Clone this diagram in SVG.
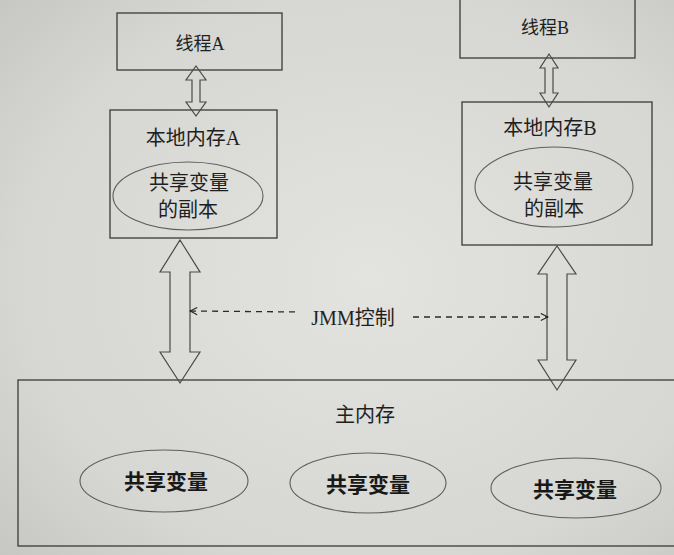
<svg xmlns="http://www.w3.org/2000/svg" width="674" height="555" viewBox="0 0 674 555">
<defs>
<radialGradient id="bg" cx="0.55" cy="0.5" r="0.75">
<stop offset="0" stop-color="#e3e3df"/>
<stop offset="0.7" stop-color="#d6d6d2"/>
<stop offset="1" stop-color="#c6c6c2"/>
</radialGradient>
<marker id="chev" viewBox="0 0 10 10" refX="9" refY="5" markerWidth="9" markerHeight="9" orient="auto-start-reverse" markerUnits="userSpaceOnUse">
<path d="M1,1 L9,5 L1,9" fill="none" stroke="#222" stroke-width="1.2"/>
</marker>
<style>
.box{fill:none;stroke:#3a3a3a;stroke-width:1.3}
.ell{fill:none;stroke:#5e5e5e;stroke-width:1.1}
.arr{fill:none;stroke:#4a4a4a;stroke-width:1.2;stroke-linejoin:miter}
.dash{fill:none;stroke:#2a2a2a;stroke-width:1.3;stroke-dasharray:6 5}
.t{font-family:"Liberation Serif","Noto Sans CJK SC",serif;fill:#1f1f1f;text-anchor:middle;dominant-baseline:central}
.big{font-size:20px}
.mid{font-size:18px}
.bold{font-size:21px;font-weight:bold;fill:#181818}
</style>
</defs>
<rect x="0" y="0" width="674" height="555" fill="url(#bg)"/>

<g id="threadA">
<rect class="box" x="117" y="13" width="165" height="57"/>
<text class="t mid" x="200" y="44">线程A</text>
</g>

<g id="threadB">
<rect class="box" x="460" y="-2" width="175" height="60"/>
<text class="t mid" x="545" y="28">线程B</text>
</g>

<g id="localA">
<rect class="box" x="110" y="110" width="167" height="128"/>
<text class="t big" x="193" y="138">本地内存A</text>
<ellipse class="ell" cx="188" cy="196" rx="75" ry="34"/>
<text class="t big" x="189" y="183">共享变量</text>
<text class="t big" x="188" y="210">的副本</text>
</g>

<g id="localB">
<rect class="box" x="462" y="102" width="190" height="143"/>
<text class="t big" x="550" y="128">本地内存B</text>
<ellipse class="ell" cx="554" cy="187" rx="79" ry="40"/>
<text class="t big" x="553" y="182">共享变量</text>
<text class="t big" x="554" y="209">的副本</text>
</g>

<g id="mainMemory">
<rect class="box" x="18" y="380" width="680" height="166"/>
<text class="t big" x="365" y="415">主内存</text>
<ellipse class="ell" cx="164" cy="481" rx="84" ry="31"/>
<text class="t bold" x="166" y="482">共享变量</text>
<ellipse class="ell" cx="368" cy="483" rx="78" ry="30"/>
<text class="t bold" x="368" y="485">共享变量</text>
<ellipse class="ell" cx="576" cy="488" rx="85" ry="30"/>
<text class="t bold" x="575" y="490">共享变量</text>
</g>

<g id="connectors">
<polygon class="arr" points="196,66 206,80 200,80 200,102 206,102 196,116 186,102 192,102 192,80 186,80"/>
<polygon class="arr" points="549,54 558,68 553,68 553,93 558,93 549,107 540,93 545,93 545,68 540,68"/>
<polygon class="arr" points="180,240 200,272 190,272 190,352 200,352 180,383 160,352 170,352 170,272 160,272"/>
<polygon class="arr" points="557,246 576,274 567,274 567,360 576,360 557,390 538,360 547,360 547,274 538,274"/>
<line class="dash" x1="190" y1="311" x2="298" y2="312" marker-start="url(#chev)"/>
<line class="dash" x1="413" y1="317" x2="548" y2="317" marker-end="url(#chev)"/>
<text class="t big" x="353" y="318">JMM控制</text>
</g>
</svg>
